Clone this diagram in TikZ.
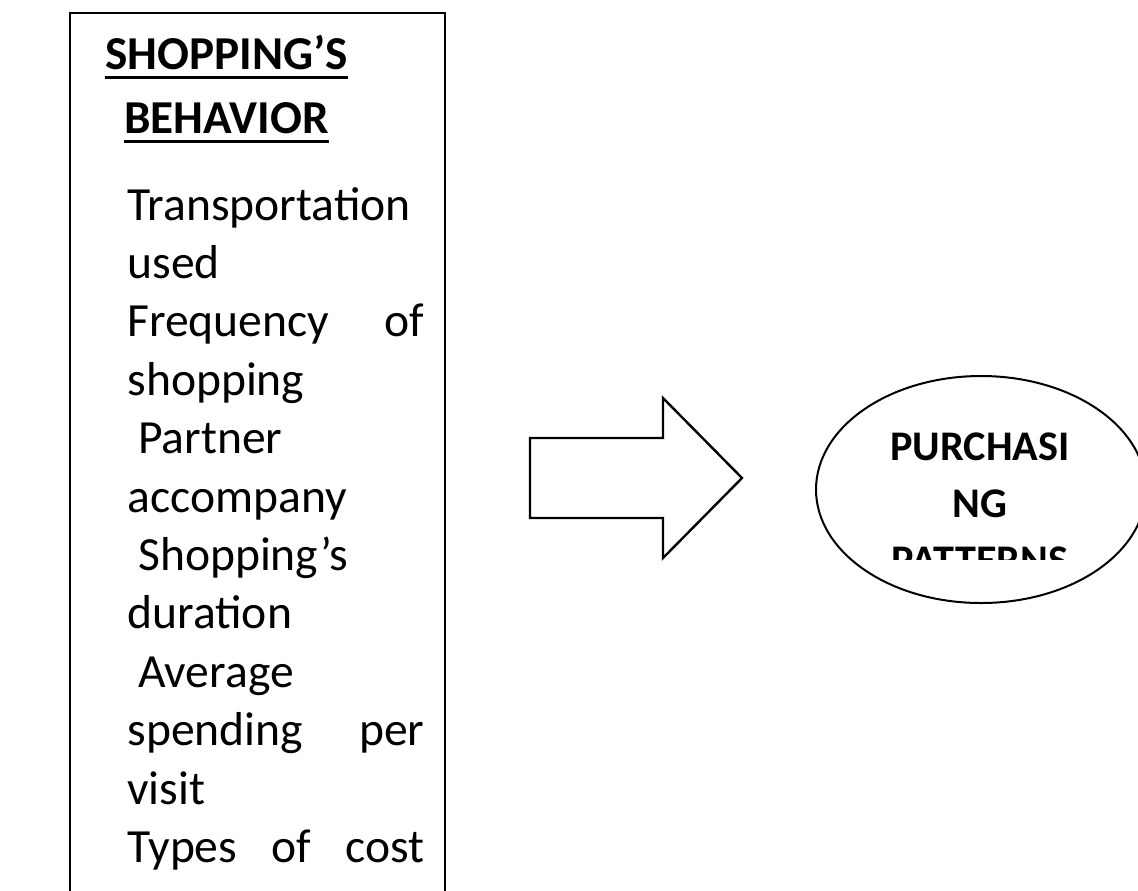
\documentclass[tikz,border=0pt]{standalone}
\usepackage{fontspec}
\setmainfont{Carlito}
\usetikzlibrary{shapes.geometric}

\begin{document}
\begin{tikzpicture}[x=0.5pt, y=-0.5pt,
        head/.style={font=\bfseries\fontsize{23.6}{28}\selectfont, anchor=base, inner sep=0pt},
        item/.style={font=\fontsize{23.8}{28}\selectfont, anchor=base west, inner sep=0pt},
        goal/.style={font=\bfseries\fontsize{21.1}{25}\selectfont, anchor=base, inner sep=0pt}]
    \useasboundingbox (0,0) rectangle (1138,890);
    \clip (0,0) rectangle (1138,890);

	\draw[line width=1.2pt] (70,900) -- (70,13) -- (445,13) -- (445,900);
	\node[head] (h1) at (226.5,69) {SHOPPING’S};
	\node[head] (h2) at (226.5,133) {BEHAVIOR};
	\draw[line width=1.5pt] ([yshift=-4pt]h1.base west) -- ([yshift=-4pt]h1.base east);
	\draw[line width=1.5pt] ([yshift=-4pt]h2.base west) -- ([yshift=-4pt]h2.base east);
	\foreach \txt [count=\i] in {Transportation, used, {\makebox[148.5pt][s]{Frequency of}}, shopping,
	        {\ Partner}, accompany, {\ Shopping’s}, duration, {\ Average},
	        {\makebox[148.5pt][s]{spending per}}, visit, {\makebox[148.5pt][s]{Types of cost}}}
	    \node[item] (b\i) at (127,{220+58.4*(\i-1)}) {\txt};

\draw[line width=1.2pt] (530,438) -- (663,438) -- (663,398) -- (742,478) -- (663,558) -- (663,518) -- (530,518) -- cycle;

\node[draw, ellipse, line width=1pt, minimum width=165pt, minimum height=113.5pt, inner sep=0pt] (pat) at (981,489.5) {};
\begin{scope}
	\clip (816,376) rectangle (1146,559);
	\node[goal] (g1) at (980,460) {PURCHASI};
	\node[goal] (g2) at (980,517) {NG};
	\node[goal] (g3) at (980,574) {PATTERNS};
\end{scope}
\end{tikzpicture}
\end{document}
